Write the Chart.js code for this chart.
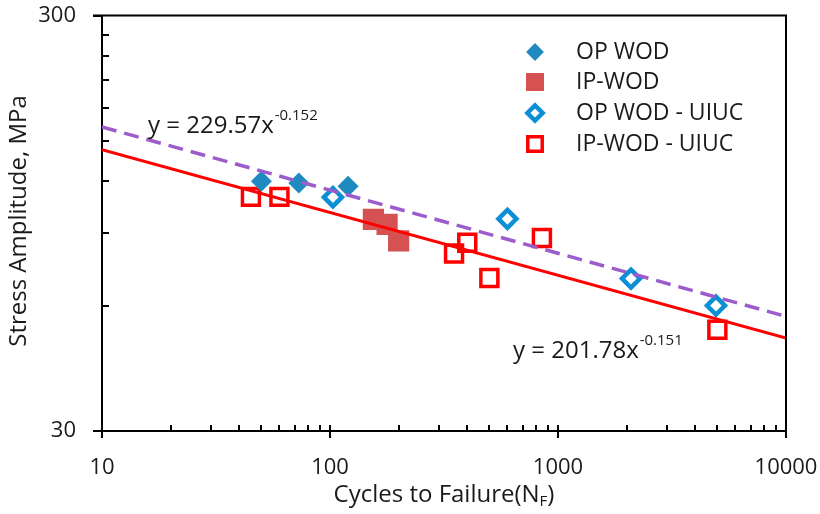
<!DOCTYPE html>
<html>
<head>
<meta charset="utf-8">
<script src="https://cdn.jsdelivr.net/npm/chart.js@4/dist/chart.umd.min.js"></script>
<style>
  html, body { margin: 0; padding: 0; background: #fff; }
  #wrap { width: 820px; height: 514px; }
</style>
</head>
<body>
<div id="wrap"><canvas id="c" width="820" height="514"></canvas></div>
<script>
// Fatigue data: cycles to failure (N) and stress amplitude (S, MPa)
const opWodN = [50, 73, 120];
const opWodS = [119.7, 118.6, 116.4];
const ipWodN = [155, 178, 200];
const ipWodS = [96.9, 94.3, 86.0];
const opUiucN = [103, 600, 2090, 4930];
const opUiucS = [109.6, 97.2, 69.8, 60.1];
const ipUiucN = [45, 60, 350, 400, 500, 850, 5000];
const ipUiucS = [109.8, 109.8, 80.2, 85.2, 70.0, 87.4, 52.6];

// Power-law fits y = a * x^b
const opFitA = 229.57, opFitB = -0.152;
const ipFitA = 201.78, ipFitB = -0.151;
const fitRangeN = [10, 10000];

// Axis tick values
const xMajorTicks = [10, 100, 1000, 10000];
const xMinorTicks = [20, 30, 40, 50, 60, 70, 80, 90, 200, 300, 400, 500, 600, 700, 800, 900,
                     2000, 3000, 4000, 5000, 6000, 7000, 8000, 9000];
const yMajorTicks = [30, 300];
const yMinorTicks = [60, 90, 120, 150, 180, 210, 240, 270];

const FONT = "'Open Sans', 'DejaVu Sans', sans-serif";
const TEXT = '#1a1a1a';

const pts = (xs, ys) => xs.map((v, i) => ({ x: v, y: ys[i] }));
const fitPts = (a, b) => fitRangeN.map(n => ({ x: n, y: a * Math.pow(n, b) }));

const markerSets = [
  { label: 'OP WOD', data: pts(opWodN, opWodS), pointStyle: 'rectRot', pointRadius: 10.5,
    backgroundColor: '#1f8ac0', borderColor: '#1f8ac0', borderWidth: 0 },
  { label: 'IP-WOD', data: pts(ipWodN, ipWodS), pointStyle: 'rect', pointRadius: 15,
    backgroundColor: '#d65252', borderColor: '#d65252', borderWidth: 0 },
  { label: 'OP WOD - UIUC', data: pts(opUiucN, opUiucS), pointStyle: 'rectRot', pointRadius: 9,
    backgroundColor: 'rgba(255,255,255,0)', borderColor: '#0b8fd6', borderWidth: 4.5 },
  { label: 'IP-WOD - UIUC', data: pts(ipUiucN, ipUiucS), pointStyle: 'rect', pointRadius: 12,
    backgroundColor: 'rgba(255,255,255,0)', borderColor: '#ff0000', borderWidth: 3.5 }
];

const datasets = markerSets.map(d => Object.assign({ type: 'scatter', order: 1, pointHoverRadius: d.pointRadius }, d));
datasets.push({
  type: 'line', label: 'OP fit', data: fitPts(opFitA, opFitB), order: 0,
  borderColor: '#9c5ccb', borderWidth: 3.5, borderDash: [15, 8], pointRadius: 0, fill: false
});
datasets.push({
  type: 'line', label: 'IP fit', data: fitPts(ipFitA, ipFitB), order: 0,
  borderColor: '#ff0000', borderWidth: 3, pointRadius: 0, fill: false
});

function drawPowerLabel(ctx, x, y, a, b) {
  ctx.font = `24px ${FONT}`;
  ctx.fillStyle = TEXT;
  ctx.textBaseline = 'middle';
  ctx.textAlign = 'left';
  const base = `y = ${a.toFixed(2)}x`;
  ctx.fillText(base, x, y);
  const w = ctx.measureText(base).width;
  ctx.font = `15px ${FONT}`;
  ctx.fillText(b.toFixed(3), x + w + 1, y - 10);
}

function noScalePadding(s) {
  s.paddingTop = 0; s.paddingBottom = 0; s.paddingLeft = 0; s.paddingRight = 0;
}

const decorPlugin = {
  id: 'decor',
  afterDraw(chart) {
    const { ctx, chartArea: a, scales: { x, y } } = chart;
    ctx.save();
    ctx.strokeStyle = '#000';
    ctx.lineWidth = 2;
    ctx.lineCap = 'butt';
    // frame: top and right edges
    ctx.beginPath();
    ctx.moveTo(a.left - 9, a.top);
    ctx.lineTo(a.right, a.top);
    ctx.lineTo(a.right, a.bottom + 7);
    ctx.stroke();
    // y major ticks (outward)
    ctx.beginPath();
    yMajorTicks.forEach(v => {
      const py = Math.round(y.getPixelForValue(v));
      ctx.moveTo(a.left - 9, py); ctx.lineTo(a.left, py);
    });
    // y minor ticks (inward)
    yMinorTicks.forEach(v => {
      const py = Math.round(y.getPixelForValue(v));
      ctx.moveTo(a.left, py); ctx.lineTo(a.left + 7, py);
    });
    // x major ticks (cross)
    xMajorTicks.forEach(v => {
      const px = Math.round(x.getPixelForValue(v));
      ctx.moveTo(px, a.bottom - 6); ctx.lineTo(px, a.bottom + 7);
    });
    // x minor ticks (inward)
    xMinorTicks.forEach(v => {
      const px = Math.round(x.getPixelForValue(v));
      ctx.moveTo(px, a.bottom); ctx.lineTo(px, a.bottom - 6);
    });
    ctx.stroke();

    // axis titles
    ctx.fillStyle = TEXT;
    ctx.textAlign = 'center';
    ctx.textBaseline = 'middle';
    ctx.font = `24px ${FONT}`;
    ctx.save();
    ctx.translate(19, 221);
    ctx.rotate(-Math.PI / 2);
    ctx.fillText('Stress Amplitude, MPa', 0, 0);
    ctx.restore();

    // x title with subscript
    const t1 = 'Cycles to Failure(N', t2 = 'F', t3 = ')';
    ctx.font = `24px ${FONT}`;
    const w1 = ctx.measureText(t1).width, w3 = ctx.measureText(t3).width;
    ctx.font = `15px ${FONT}`;
    const w2 = ctx.measureText(t2).width;
    let sx = 444 - (w1 + w2 + w3) / 2;
    const ty = 495;
    ctx.textAlign = 'left';
    ctx.font = `24px ${FONT}`;
    ctx.fillText(t1, sx, ty);
    ctx.font = `15px ${FONT}`;
    ctx.fillText(t2, sx + w1, ty + 7);
    ctx.font = `24px ${FONT}`;
    ctx.fillText(t3, sx + w1 + w2, ty);

    // fit equations
    drawPowerLabel(ctx, 148, 126, opFitA, opFitB);
    drawPowerLabel(ctx, 513, 351, ipFitA, ipFitB);

    // legend
    const rows = [52, 82, 113, 144];
    markerSets.forEach((d, i) => {
      ctx.save();
      ctx.fillStyle = d.backgroundColor;
      ctx.strokeStyle = d.borderColor;
      ctx.lineWidth = d.borderWidth;
      Chart.helpers.drawPoint(ctx, {
        pointStyle: d.pointStyle, radius: d.pointRadius * 0.85, rotation: 0,
        borderWidth: d.borderWidth
      }, 535, rows[i]);
      ctx.restore();
      ctx.fillStyle = TEXT;
      ctx.font = `23px ${FONT}`;
      ctx.textAlign = 'left';
      ctx.textBaseline = 'middle';
      ctx.fillText(d.label, 576, rows[i]);
    });
    ctx.restore();
  }
};

new Chart(document.getElementById('c'), {
  data: { datasets },
  options: {
    responsive: false,
    animation: false,
    devicePixelRatio: 1,
    layout: { padding: { left: 0, top: 13, right: 34, bottom: 0 } },
    plugins: { legend: { display: false }, tooltip: { enabled: false } },
    scales: {
      x: {
        type: 'logarithmic', min: 10, max: 10000, position: 'bottom',
        grid: { display: false, drawTicks: false },
        border: { display: true, color: '#000', width: 2 },
        afterBuildTicks: s => { s.ticks = xMajorTicks.map(v => ({ value: v })); },
        afterFit: s => { s.height = 83; noScalePadding(s); },
        ticks: {
          padding: 24, color: TEXT, maxRotation: 0, autoSkip: false,
          font: { family: FONT, size: 22 },
          callback: v => String(v)
        }
      },
      y: {
        type: 'logarithmic', min: 30, max: 300, position: 'left',
        grid: { display: false, drawTicks: false },
        border: { display: true, color: '#000', width: 2 },
        afterBuildTicks: s => { s.ticks = yMajorTicks.map(v => ({ value: v })); },
        afterFit: s => { s.width = 102; noScalePadding(s); },
        ticks: {
          padding: 26, color: TEXT, autoSkip: false,
          font: { family: FONT, size: 22 },
          callback: v => String(v)
        }
      }
    }
  },
  plugins: [decorPlugin]
});
</script>
</body>
</html>
